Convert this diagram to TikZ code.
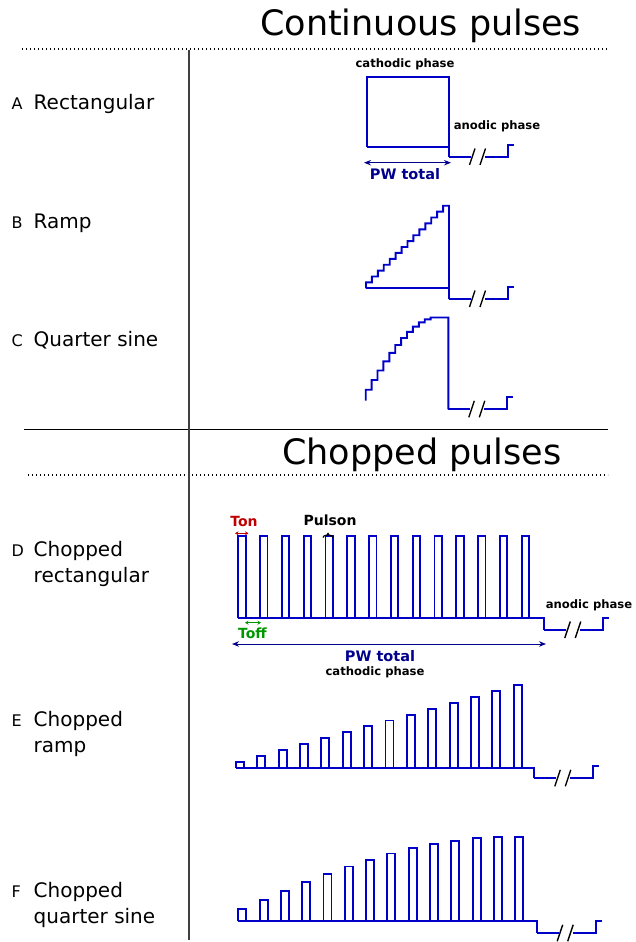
\documentclass[tikz,border=0pt]{standalone}
\usepackage{fontspec}
\setmainfont{DejaVu Sans}
\usetikzlibrary{arrows.meta,decorations.pathreplacing}

\definecolor{pulseblue}{RGB}{0,0,200}
\definecolor{pwblue}{RGB}{0,0,140}
\definecolor{tonred}{RGB}{190,0,0}
\definecolor{toffgreen}{RGB}{0,150,0}

\tikzset{
  pulse/.style={draw=pulseblue,line width=1.9pt,line join=miter},
  brk/.style={draw=black,line width=1.4pt},
  heading/.style={anchor=base west,inner sep=0pt,font=\fontsize{35}{42}\selectfont},
  rowletter/.style={anchor=base west,inner sep=0pt,font=\fontsize{16}{19}\selectfont},
  rowname/.style={anchor=base west,inner sep=0pt,font=\fontsize{20}{24}\selectfont},
  phase/.style={anchor=base,inner sep=0pt,font=\bfseries\fontsize{11.6}{14}\selectfont},
  pwtext/.style={anchor=base,inner sep=0pt,text=pwblue,font=\bfseries\fontsize{14.5}{17}\selectfont},
  pwarrow/.style={draw=pwblue,line width=1pt,{Stealth[length=7pt,width=5.5pt]}-{Stealth[length=7pt,width=5.5pt]}},
  anodictail/.pic={
    \draw[pulse] (0,0) -- (22,0);
    \draw[brk] (20.5,8) -- (26,-8.5);
    \draw[brk] (31,8) -- (36.5,-8.5);
    \draw[pulse] (36,0) -- (59,0) -- (59,-12) -- (65,-12);
  }
}

\begin{document}
\begin{tikzpicture}[x=1pt,y=-1pt]

\useasboundingbox (0,0) rectangle (636,942);

% frame
\draw[black,line width=1.2pt,dash pattern=on 1.3pt off 2.7pt] (22,49) -- (608,49);
\draw[black,line width=1.2pt,dash pattern=on 1.3pt off 2.7pt] (28,475) -- (608,475);
\draw[black,line width=1pt] (24,429) -- (608,429);
\draw[black!75,line width=1.2pt] (189,50) -- (189,940);

\node[heading] (conthead) at (260,36) {Continuous pulses};
\node[heading] (chophead) at (282,464) {Chopped pulses};

% row labels
\node[rowletter] (la) at (11.5,109.3) {A};
\node[rowname] (na) at (33.5,109.3) {Rectangular};
\node[rowletter] (lb) at (11.5,228.3) {B};
\node[rowname] (nb) at (33.5,228.3) {Ramp};
\node[rowletter] (lc) at (11.5,346.7) {C};
\node[rowname] (nc) at (33.5,346.7) {Quarter sine};
\node[rowletter] (ld) at (11.5,556.7) {D};
\node[rowname] (nd) at (33.5,556.7) {Chopped};
\node[rowname] (nd2) at (33.5,582.7) {rectangular};
\node[rowletter] (le) at (11.5,726.7) {E};
\node[rowname] (ne) at (33.5,726.7) {Chopped};
\node[rowname] (ne2) at (33.5,752.7) {ramp};
\node[rowletter] (lf) at (11.5,897.7) {F};
\node[rowname] (nf) at (33.5,897.7) {Chopped};
\node[rowname] (nf2) at (33.5,923.3) {quarter sine};

% Rectangular
\draw[pulse] (367,147) -- (367,77) -- (449,77) -- (449,157);
\draw[pulse] (367,147) -- (449,147);
\pic at (449,157) {anodictail};

\node[phase] (cathA) at (405,67.3) {cathodic phase};
\node[phase] (anodA) at (497,129) {anodic phase};
\coordinate (pwAl) at (364,162.7);
\coordinate (pwAr) at (451,162.7);
\draw[pwarrow] (pwAl) -- (pwAr);
\node[pwtext] (pwA) at (405,179.3) {PW total};

% Ramp
\draw[pulse] (366,288.3) -- (449,288.3);
\draw[pulse] (366,288.3)
  \foreach \i in {1,...,14}{ -- ++(0,-5.9) -- ++(5.93,0) }
  -- (449,299);
\pic at (449,299) {anodictail};

% Quarter sine
\draw[pulse] (365.7,400.7)
  \foreach \i in {0,...,11}{
    -- ({365.7+5.9*\i},{400.7-84*sin(7.5+6.8*\i)})
    -- ({371.6+5.9*\i},{400.7-84*sin(7.5+6.8*\i)}) }
  -- (448.3,{400.7-84*sin(82.3)}) -- (448.3,409.3);
\pic at (448.3,409.3) {anodictail};

% Chopped rectangular
\foreach \i in {0,...,13}{
  \draw[pulse] ({238.3+21.8*\i},617.7) -- ++(0,-81.7) -- ++(7.4,0) -- ++(0,81.7);
}
\draw[pulse] (238.3,617.7) -- (544.3,617.7) -- (544.3,630);
\pic at (544.3,630) {anodictail};

\node[anchor=base,inner sep=0pt,text=tonred,font=\bfseries\fontsize{14}{17}\selectfont] (ton) at (244,526.7) {Ton};
\coordinate (tonl) at (235,533.3);
\coordinate (tonr) at (248.5,533.3);
\draw[tonred,line width=1pt,{Stealth[length=3.5pt,width=4pt]}-{Stealth[length=3.5pt,width=4pt]}] (tonl) -- (tonr);

\node[anchor=base,inner sep=0pt,font=\bfseries\fontsize{14}{17}\selectfont] (pulson) at (330,525.7) {Pulson};
\coordinate (pull) at (323,537.5);
\coordinate (pulr) at (333,537.5);
\draw[black,line width=1.2pt,decorate,decoration={brace,amplitude=4pt}] (pull) -- (pulr);

\coordinate (toffl) at (245,622.7);
\coordinate (toffr) at (261,622.7);
\draw[toffgreen,line width=1pt,{Stealth[length=3.5pt,width=4pt]}-{Stealth[length=3.5pt,width=4pt]}] (toffl) -- (toffr);
\node[anchor=base,inner sep=0pt,text=toffgreen,font=\bfseries\fontsize{14}{17}\selectfont] (toff) at (252.5,638.3) {Toff};

\node[phase] (anodD) at (589,608.3) {anodic phase};
\coordinate (pwDl) at (232,644);
\coordinate (pwDr) at (546,644);
\draw[pwarrow] (pwDl) -- (pwDr);
\node[pwtext] (pwD) at (380,661) {PW total};
\node[phase] (cathD) at (375,675) {cathodic phase};

% Chopped ramp
\foreach \i in {0,...,13}{
  \draw[pulse] ({236+21.36*\i},767.7) -- ++(0,{-5.9*(\i+1)}) -- ++(8,0) -- ++(0,{5.9*(\i+1)});
}
\draw[pulse] (236,767.7) -- (534.3,767.7) -- (534.3,778.3);
\pic at (534.3,778.3) {anodictail};

% Chopped quarter sine
\foreach \i in {0,...,13}{
  \draw[pulse] ({238.3+21.3*\i},921) -- ++(0,{-84*sin(8+6.5*\i)}) -- ++(8,0) -- ++(0,{84*sin(8+6.5*\i)});
}
\draw[pulse] (238.3,921) -- (536.7,921) -- (536.7,933.3);
\pic at (536.7,933.3) {anodictail};

\end{tikzpicture}
\end{document}
